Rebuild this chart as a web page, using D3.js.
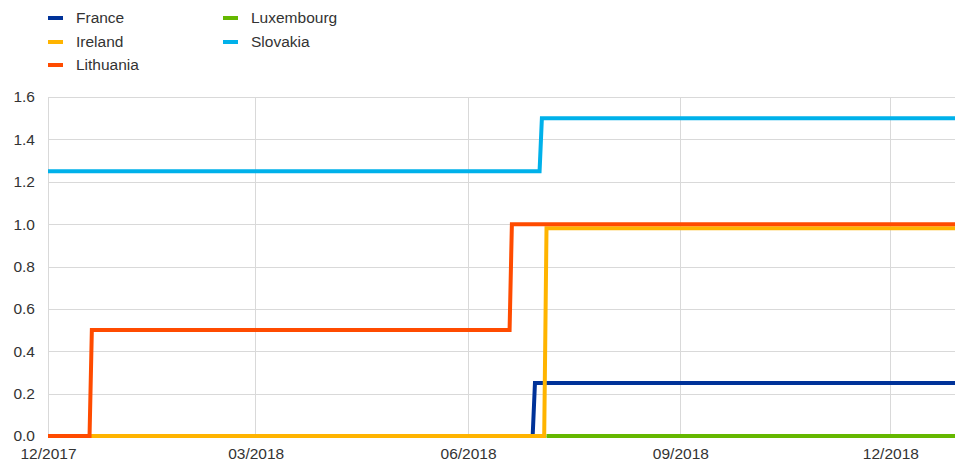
<!DOCTYPE html>
<meta charset="utf-8">
<style type="text/css">
  body {
    margin: 0;
    font-family: "Liberation Sans", Arial, sans-serif;
    background: #fff;
  }
  .grid line {
    stroke: #d9d9d9;
    stroke-width: 1px;
    shape-rendering: crispEdges;
  }
  .legend text {
    font-size: 15.5px;
    fill: #333;
  }
  .line {
    fill: none;
    stroke-width: 4px;
    stroke-linejoin: miter;
  }
</style>
<body>
<div class="g-chart"></div>
</body>
<script src="https://d3js.org/d3.v7.min.js"></script>
<script>
  // data: change points of each series (date, value)
  var countries = ["France", "Ireland", "Lithuania", "Luxembourg", "Slovakia"];
  var colors = ["#003299", "#ffb400", "#ff4b00", "#65b800", "#00b1ea"];

  var franceDates = ["2017-12-01", "2018-06-29", "2018-06-30", "2018-12-29"];
  var franceValues = [0, 0, 0.25, 0.25];

  var irelandDates = ["2017-12-01", "2018-07-04", "2018-07-05", "2018-12-29"];
  var irelandValues = [0, 0, 0.98, 0.98];

  var lithuaniaDates = ["2017-12-01", "2017-12-19", "2017-12-20", "2018-06-19", "2018-06-20", "2018-12-29"];
  var lithuaniaValues = [0, 0, 0.5, 0.5, 1.0, 1.0];

  var luxembourgDates = ["2018-07-05", "2018-12-29"];
  var luxembourgValues = [0, 0];

  var slovakiaDates = ["2017-12-01", "2018-07-02", "2018-07-03", "2018-12-29"];
  var slovakiaValues = [1.25, 1.25, 1.5, 1.5];

  var yTicks = [0, 0.2, 0.4, 0.6, 0.8, 1.0, 1.2, 1.4, 1.6];
  var xTickDates = ["2017-12-01", "2018-03-01", "2018-06-01", "2018-09-01", "2018-12-01"];
  var xTickLabels = ["12/2017", "03/2018", "06/2018", "09/2018", "12/2018"];

  //Margin conventions
  var margin = { top: 97, right: 0, bottom: 28, left: 48 };
  var width = 955 - margin.left - margin.right,
    height = 464 - margin.top - margin.bottom;

  var parse = d3.timeParse("%Y-%m-%d");

  var svgRoot = d3.select(".g-chart").append("svg")
    .attr("width", 955)
    .attr("height", 464);

  var svg = svgRoot.append("g")
    .attr("transform", "translate(" + margin.left + "," + margin.top + ")");

  var xScale = d3.scaleTime()
    .domain([parse("2017-12-01"), parse("2018-12-29")])
    .range([0, width]);

  var yScale = d3.scaleLinear()
    .domain([0, 1.6])
    .range([height, 0]);

  //gridlines
  var grid = svg.append("g").attr("class", "grid");
  grid.selectAll("line.h")
    .data(yTicks)
    .enter().append("line")
    .attr("class", "h")
    .attr("x1", 0)
    .attr("x2", width)
    .attr("y1", function(d) { return Math.round(yScale(d)) + 0.5; })
    .attr("y2", function(d) { return Math.round(yScale(d)) + 0.5; });

  grid.selectAll("line.v")
    .data(xTickDates)
    .enter().append("line")
    .attr("class", "v")
    .attr("x1", function(d) { return xScale(parse(d)); })
    .attr("x2", function(d) { return xScale(parse(d)); })
    .attr("y1", 0)
    .attr("y2", height);

  //y axis labels
  var yAxis = d3.axisLeft(yScale)
    .tickValues(yTicks)
    .tickSize(0)
    .tickPadding(13)
    .tickFormat(d3.format(".1f"));

  svg.append("g")
    .attr("class", "y axis")
    .call(yAxis)
    .call(function(g) { g.select(".domain").remove(); });

  //x axis labels
  var xAxis = d3.axisBottom(xScale)
    .tickValues(xTickDates.map(parse))
    .tickSize(0)
    .tickPadding(12)
    .tickFormat(function(d, i) { return xTickLabels[i]; });

  svg.append("g")
    .attr("class", "x axis")
    .attr("transform", "translate(0," + height + ")")
    .call(xAxis)
    .call(function(g) { g.select(".domain").remove(); });

  svg.selectAll(".axis text")
    .style("font-family", "'Liberation Sans', Arial, sans-serif")
    .style("font-size", "15.5px")
    .attr("fill", "#333");

  //series
  var series = [
    { dates: franceDates, values: franceValues },
    { dates: irelandDates, values: irelandValues },
    { dates: lithuaniaDates, values: lithuaniaValues },
    { dates: luxembourgDates, values: luxembourgValues },
    { dates: slovakiaDates, values: slovakiaValues }
  ];

  var line = d3.line()
    .x(function(d) { return xScale(d[0]); })
    .y(function(d) { return yScale(d[1]); });

  svg.selectAll("path.line")
    .data(series)
    .enter().append("path")
    .attr("class", "line")
    .attr("stroke", function(d, i) { return colors[i]; })
    .attr("d", function(s) {
      return line(s.dates.map(function(d, i) { return [parse(d), s.values[i]]; }));
    });

  //legend
  var legendPos = [[48, 18], [48, 42], [48, 65], [223, 18], [223, 42]];
  var legend = svgRoot.append("g").attr("class", "legend");
  var items = legend.selectAll("g")
    .data(countries)
    .enter().append("g")
    .attr("transform", function(d, i) { return "translate(" + legendPos[i][0] + "," + legendPos[i][1] + ")"; });

  items.append("line")
    .attr("x1", 0)
    .attr("x2", 15)
    .attr("stroke", function(d, i) { return colors[i]; })
    .attr("stroke-width", 4);

  items.append("text")
    .attr("x", 28)
    .attr("dy", "0.35em")
    .text(function(d) { return d; });
</script>
